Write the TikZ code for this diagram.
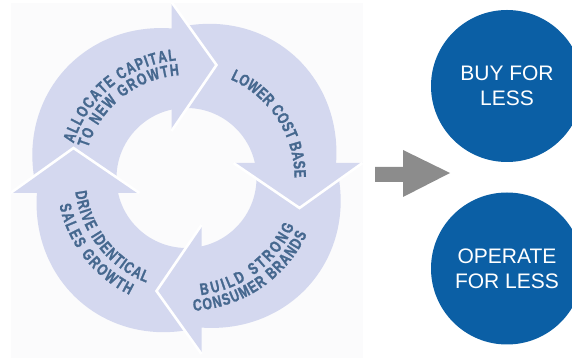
\documentclass[tikz,border=0pt]{standalone}
\usepackage{fontspec}
\setmainfont{Liberation Sans}
\newfontfamily\cycfont{Liberation Sans}[FakeStretch=0.74, FakeBold=1.2]
\usetikzlibrary{decorations.text}
\definecolor{ringc}{HTML}{D4D8EF}
\definecolor{txtc}{HTML}{46688F}
\definecolor{bluec}{HTML}{0B5FA5}
\definecolor{grayc}{HTML}{8C8C8C}
\definecolor{panelc}{HTML}{FBFBFC}
\newcommand\cycfmt{\cycfont\bfseries\fontsize{16.5}{17}\selectfont}
\begin{document}
\begin{tikzpicture}[x=1pt,y=1pt,
  ring/.style={fill=ringc},
  gapline/.style={draw=white, line width=2.6pt, line join=miter},
  cyctext/.style={decorate, decoration={text along path, text color=txtc,
      text align={fit to path}, text={|\cycfmt|#1}}},
  bigcirc/.style={circle, fill=bluec, minimum size=152pt, inner sep=0pt,
      text=white, align=center, font=\fontsize{21}{25}\selectfont}]
\useasboundingbox (0,0) rectangle (572,358);
\fill[panelc] (11,0) rectangle (363,355);
\begin{scope}[shift={(186.5,180)}]
  % bodies
  \foreach \r in {90,0,-90,180}{
    \begin{scope}[rotate=\r]
      \fill[ring] plot[domain=95:5, samples=46] (\x:{150+13*sin(2*(\x-5))})
        -- (5:70) arc[start angle=5, end angle=95, radius=70pt] -- cycle;
    \end{scope}
  }
  % heads
  \foreach \r in {90,0,-90,180}{
    \begin{scope}[rotate=\r]
      \fill[ring] (47,15) -- (113,-30) -- (176,15) -- cycle;
      \draw[gapline] (47,15) -- (113,-30) -- (176,15);
    \end{scope}
  }
  % texts
  \path[cyctext={ALLOCATE CAPITAL}] (163:118) arc[start angle=163, end angle=95, radius=118pt];
  \path[cyctext={TO NEW GROWTH}] (163:103) arc[start angle=163, end angle=94, radius=103pt];
  \path[cyctext={LOWER COST BASE}] (66:108) arc[start angle=66, end angle=0, radius=108pt];
  \path[cyctext={BUILD STRONG}] (-83:118) arc[start angle=-83, end angle=-24, radius=118pt];
  \path[cyctext={CONSUMER BRANDS}] (-87:133) arc[start angle=-87, end angle=-25, radius=133pt];
  \path[cyctext={DRIVE IDENTICAL}] (187:112) arc[start angle=187, end angle=249, radius=112pt];
  \path[cyctext={SALES GROWTH}] (192:130) arc[start angle=192, end angle=244, radius=130pt];
\end{scope}
% gray arrow
\fill[grayc] (375,176) -- (403,176) -- (403,161) -- (450,185) -- (403,208) -- (403,191) -- (375,191) -- cycle;
% circles
\node[bigcirc] (buy) at (507,272) {BUY FOR\\LESS};
\node[bigcirc] (operate) at (507,89.5) {OPERATE\\FOR LESS};
\end{tikzpicture}
\end{document}
